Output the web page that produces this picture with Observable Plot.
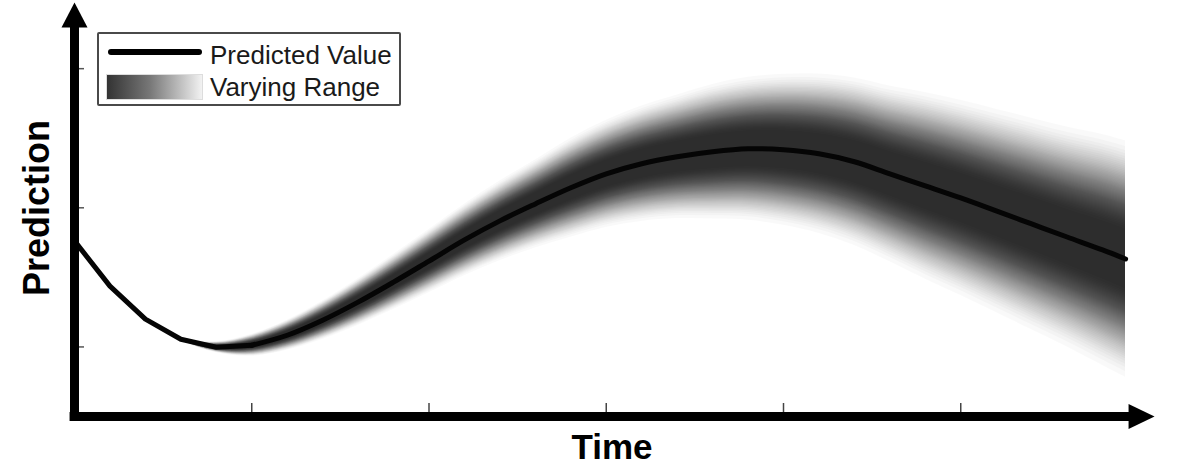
<!DOCTYPE html>
<html>
<head>
<meta charset="utf-8">
<script src="https://cdn.jsdelivr.net/npm/d3@7"></script>
<script src="https://cdn.jsdelivr.net/npm/@observablehq/plot@0.6"></script>
<style>
  html, body { margin: 0; padding: 0; background: #fff; }
  #wrap { position: relative; width: 1183px; height: 467px; overflow: hidden; font-family: "Liberation Sans", Arial, sans-serif; }
  #chart { position: absolute; left: 0; top: 0; }
  .legend { position: absolute; left: 97px; top: 32px; width: 300px; height: 70px; border: 2px solid #4a4a4a; border-radius: 2px; background: #fff; }
  .legend .lline { position: absolute; left: 9px; top: 15px; width: 94px; height: 6px; background: #000; border-radius: 3px; }
  .legend .lgrad { position: absolute; left: 7px; top: 40px; width: 95px; height: 24px; background: linear-gradient(to right, #333 0%, #777 45%, #f2f2f2 100%); border: 1px solid #ddd; }
  .legend .ltext { position: absolute; left: 111px; font-size: 26px; line-height: 26px; color: #1a1a1a; white-space: nowrap; }
  #labels { position: absolute; left: 0; top: 0; pointer-events: none; }
</style>
</head>
<body>
<div id="wrap">
  <div id="chart"></div>
  <svg id="labels" width="1183" height="467">
    <text x="612" y="459" text-anchor="middle" font-family="Liberation Sans, Arial, sans-serif" font-weight="bold" font-size="35" fill="#000">Time</text>
    <text transform="translate(49,208) rotate(-90)" text-anchor="middle" font-family="Liberation Sans, Arial, sans-serif" font-weight="bold" font-size="36" fill="#000">Prediction</text>
  </svg>
  <div class="legend">
    <div class="lline"></div>
    <div class="lgrad"></div>
    <div class="ltext" style="top:8px">Predicted Value</div>
    <div class="ltext" style="top:40px">Varying Range</div>
  </div>
</div>
<script>
// ---- data ----
const timeValues = [0, 0.2, 0.4, 0.6, 0.8, 1.0, 1.2, 1.4, 1.6, 1.8, 2.0, 2.2, 2.4, 2.6, 2.8, 3.0,
  3.2, 3.4, 3.6, 3.8, 4.0, 4.2, 4.4, 4.6, 4.8, 5.0, 5.2, 5.4, 5.6, 5.8, 5.93];
const predictedValues = [1.762, 1.437, 1.200, 1.055, 0.998, 1.012, 1.084, 1.192, 1.322, 1.466, 1.617,
  1.769, 1.906, 2.028, 2.144, 2.244, 2.317, 2.367, 2.403, 2.424, 2.417, 2.388, 2.331, 2.244, 2.158,
  2.071, 1.978, 1.884, 1.790, 1.697, 1.632];
const rangeHalfWidth = [0, 0, 0, 0.01, 0.04, 0.08, 0.11, 0.14, 0.17, 0.20, 0.23, 0.26, 0.29, 0.32, 0.36,
  0.39, 0.42, 0.45, 0.49, 0.52, 0.55, 0.58, 0.61, 0.64, 0.68, 0.71, 0.74, 0.77, 0.80, 0.84, 0.86];
const xTicks = [1, 2, 3, 4, 5];
const yTicks = [1, 2, 3];

// ---- build table ----
const data = timeValues.map((t, i) => ({x: t, y: predictedValues[i], w: rangeHalfWidth[i]}));
const dataLeft = data.filter(d => d.x <= 1.0);
const dataRight = data.filter(d => d.x >= 1.0);

// gradient band: nested translucent areas whose widths give a soft shoulder profile
const N = 60;
const coreOpacity = 0.78;
const layerOpacity = 1 - Math.pow(1 - coreOpacity, 1 / N);
const s0 = 0.22, s1 = 1.05;
function profileInverse(o) { // relative distance where opacity equals o
  const target = 1 - o / coreOpacity; // smoothstep value
  // invert smoothstep by bisection
  let lo = 0, hi = 1;
  for (let i = 0; i < 40; i++) { const m = (lo + hi) / 2; (3 * m * m - 2 * m * m * m) < target ? lo = m : hi = m; }
  return s0 + (s1 - s0) * (lo + hi) / 2;
}
const levels = d3.range(N).map(k => {
  const c = N - k - 0.5;
  return profileInverse(1 - Math.pow(1 - layerOpacity, c));
});
const bandMarks = levels.map(f => Plot.areaY(data, {
  x: "x",
  y1: d => d.y - d.w * f,
  y2: d => d.y + d.w * f,
  fill: "#000",
  fillOpacity: layerOpacity,
  curve: "catmull-rom"
}));

const arrowRight = {draw(ctx) { ctx.moveTo(-13, -12.5); ctx.lineTo(13, 0); ctx.lineTo(-13, 12.5); ctx.closePath(); }};
const arrowUp = {draw(ctx) { ctx.moveTo(0, -12.5); ctx.lineTo(13, 12.5); ctx.lineTo(-13, 12.5); ctx.closePath(); }};

const xMin = 0, xMax = 6, yMin = 0.5, yMax = 3.49;

const chart = Plot.plot({
  width: 1183,
  height: 467,
  marginLeft: 74,
  marginRight: 45.5,
  marginTop: 0,
  marginBottom: 51,
  x: {domain: [xMin, xMax], axis: null},
  y: {domain: [yMin, yMax], axis: null},
  marks: [
    ...bandMarks,
    Plot.line(dataLeft, {x: "x", y: "y", stroke: "#050505", strokeWidth: 5, curve: "linear", strokeLinejoin: "round"}),
    Plot.line(dataRight, {x: "x", y: "y", stroke: "#050505", strokeWidth: 5, curve: "catmull-rom", strokeLinecap: "round"}),
    Plot.ruleX(xTicks, {y1: yMin, y2: yMin + 13 / 139.13, stroke: "#444", strokeWidth: 1.5}),
    Plot.ruleY(yTicks, {x1: xMin, x2: xMin + 10 / 177.25, stroke: "#555", strokeWidth: 1.5}),
    Plot.ruleY([yMin], {x1: xMin - 0.025, x2: 5.96, stroke: "#000", strokeWidth: 9}),
    Plot.ruleX([xMin], {y1: yMin, y2: 3.30, stroke: "#000", strokeWidth: 9}),
    Plot.dot([{x: 6.02, y: yMin}], {x: "x", y: "y", symbol: arrowRight, fill: "#000", stroke: null}),
    Plot.dot([{x: xMin, y: 3.386}], {x: "x", y: "y", symbol: arrowUp, fill: "#000", stroke: null})
  ]
});
document.getElementById("chart").appendChild(chart);
</script>
</body>
</html>
